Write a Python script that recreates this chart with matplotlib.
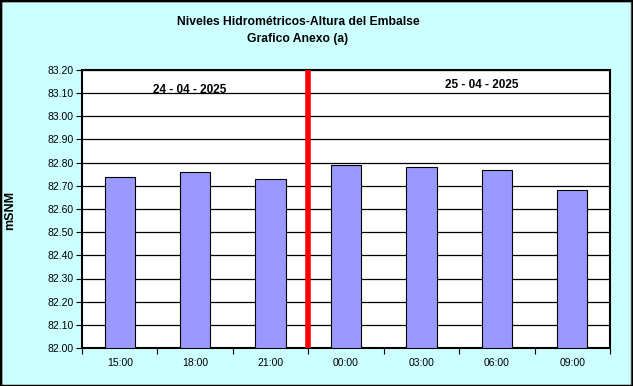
import matplotlib
matplotlib.use('Agg')
import matplotlib.pyplot as plt
from matplotlib.patches import Rectangle

horas = ['15:00', '18:00', '21:00', '00:00', '03:00', '06:00', '09:00']
niveles = [82.74, 82.76, 82.73, 82.79, 82.78, 82.77, 82.68]
yticks = [82.00 + 0.1 * i for i in range(13)]
fechas = ['24 - 04 - 2025', '25 - 04 - 2025']
base = 82.0

plt.rcParams['font.family'] = ['Liberation Sans', 'DejaVu Sans']

fig = plt.figure(figsize=(6.33, 3.86), dpi=100)
fig.patch.set_facecolor('#CCFFFF')
W, H = 633, 386
ax = fig.add_axes([82 / W, 1 - 348 / H, (610 - 82) / W, (348 - 70) / H])
ax.set_facecolor('white')

x = list(range(len(horas)))
ax.bar(x, [v - base for v in niveles], width=0.4, bottom=base, color='#9999FF',
       edgecolor='black', linewidth=0.8, zorder=3)
ax.set_xlim(-0.5, len(horas) - 0.5)
ax.set_ylim(82.0, 83.2)
ax.set_yticks(yticks)
ax.set_yticklabels([f'{v:.2f}' for v in yticks], fontsize=7.5)
ax.yaxis.grid(True, color='black', linewidth=0.9, zorder=0)
ax.set_axisbelow(True)
ax.set_xticks(x)
ax.set_xticklabels(horas, fontsize=7.5)
ax.tick_params(axis='x', length=0, pad=7)
ax.set_xticks([i - 0.5 for i in range(len(horas) + 1)], minor=True)
ax.tick_params(axis='x', which='minor', length=4, direction='out', width=0.8)
ax.tick_params(axis='y', length=4, direction='out', width=0.8, pad=2)
for s in ax.spines.values():
    s.set_linewidth(1.5)

ax.axvline(2.5, color='red', linewidth=4, zorder=4)
ax.text(0.93, 83.115, fechas[0], ha='center', va='center', fontsize=8.5, fontweight='bold')
ax.text(4.8, 83.135, fechas[1], ha='center', va='center', fontsize=8.5, fontweight='bold')

fig.text(10 / W, 1 - 210 / H, 'mSNM', rotation=90, ha='center', va='center', fontsize=9, fontweight='bold')
fig.text(298 / W, 1 - 22 / H, 'Niveles Hidrométricos-Altura del Embalse', ha='center', va='center',
         fontsize=8.7, fontweight='bold')
fig.text(298 / W, 1 - 39 / H, 'Grafico Anexo (a)', ha='center', va='center', fontsize=8.7, fontweight='bold')

fig.patches.append(Rectangle((0.5 / W, 0), 1 - 3 / W, 1 - 1 / H, transform=fig.transFigure,
                             fill=False, edgecolor='#555555', linewidth=1))
fig.patches.append(Rectangle((0, 0), 1, 1, transform=fig.transFigure,
                             fill=False, edgecolor='black', linewidth=2.5))

fig.savefig('out.png', dpi=100, facecolor=fig.get_facecolor())
